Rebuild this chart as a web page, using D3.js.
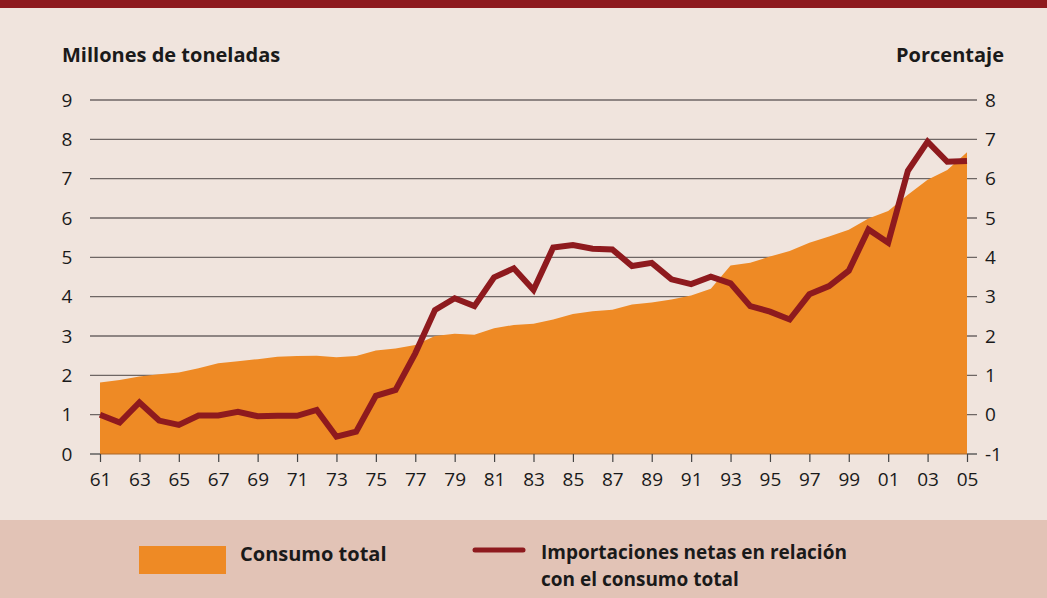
<!DOCTYPE html>
<html>
<head>
<meta charset="utf-8">
<script src="https://cdn.jsdelivr.net/npm/d3@7"></script>
<style>
  body { margin: 0; padding: 0; background: #f0e4dd; }
  svg text { font-family: "Open Sans", "Noto Sans", sans-serif; fill: #1a1a1a; }
</style>
</head>
<body>
<div id="chart"></div>
<script>
// Years 1961-2005
const years = d3.range(1961, 2006);
const yearTicks = d3.range(1961, 2006, 2);

// Consumo total (millones de toneladas)
const consumo = [
  1.82, 1.88, 1.97, 2.03, 2.07, 2.18, 2.31, 2.36, 2.41, 2.47,
  2.49, 2.50, 2.46, 2.49, 2.63, 2.68, 2.77, 3.00, 3.06, 3.03,
  3.20, 3.28, 3.31, 3.42, 3.56, 3.63, 3.67, 3.80, 3.85, 3.93,
  4.03, 4.20, 4.79, 4.86, 5.02, 5.16, 5.37, 5.53, 5.70, 5.99,
  6.18, 6.59, 6.97, 7.22, 7.67
];

// Importaciones netas en relación con el consumo total (porcentaje)
const importaciones = [
  0.00, -0.20, 0.31, -0.15, -0.26, -0.02, -0.02, 0.07, -0.04, -0.03,
  -0.03, 0.12, -0.56, -0.43, 0.48, 0.63, 1.56, 2.66, 2.96, 2.76,
  3.49, 3.72, 3.17, 4.25, 4.31, 4.22, 4.20, 3.78, 3.86, 3.44,
  3.32, 3.51, 3.34, 2.76, 2.62, 2.42, 3.06, 3.27, 3.66, 4.71,
  4.37, 6.20, 6.94, 6.43, 6.45
];

const leftTicks = d3.range(0, 10);
const rightTicks = d3.range(-1, 9);

const width = 1047, height = 598;
const x0 = 100, x1 = 967;
const yBottom = 454, yTop = 100;

const svg = d3.select('#chart')
  .append('svg')
  .attr('width', width)
  .attr('height', height);

// Background pieces
svg.append('rect').attr('x', 0).attr('y', 0).attr('width', width).attr('height', height).attr('fill', '#f0e4dd');
svg.append('rect').attr('x', 0).attr('y', 0).attr('width', width).attr('height', 8).attr('fill', '#8e1a1e');
svg.append('rect').attr('x', 0).attr('y', 520).attr('width', width).attr('height', height - 520).attr('fill', '#e2c3b6');

// Scales
const xScale = d3.scaleLinear().domain([1961, 2005]).range([x0, x1]);
const yLeft = d3.scaleLinear().domain([0, 9]).range([yBottom, yTop]);
const yRight = d3.scaleLinear().domain([-1, 8]).range([yBottom, yTop]);

// Gridlines
svg.append('g')
  .selectAll('line')
  .data(leftTicks.filter(d => d > 0))
  .enter().append('line')
  .attr('x1', 90).attr('x2', 977)
  .attr('y1', d => yLeft(d)).attr('y2', d => yLeft(d))
  .attr('stroke', '#6e6664')
  .attr('stroke-width', 1.4);

// Small ticks at zero line on both sides
svg.append('line').attr('x1', 90).attr('x2', x0).attr('y1', yLeft(0)).attr('y2', yLeft(0))
  .attr('stroke', '#555').attr('stroke-width', 1.4);
svg.append('line').attr('x1', x1).attr('x2', 977).attr('y1', yLeft(0)).attr('y2', yLeft(0))
  .attr('stroke', '#555').attr('stroke-width', 1.4);

// Area
const area = d3.area()
  .x((d, i) => xScale(years[i]))
  .y0(yLeft(0))
  .y1(d => yLeft(d));

svg.append('path')
  .datum(consumo)
  .attr('fill', '#ee8a25')
  .attr('d', area);

// Zero axis line
svg.append('line').attr('x1', x0).attr('x2', x1).attr('y1', yLeft(0)).attr('y2', yLeft(0))
  .attr('stroke', '#a8662a').attr('stroke-width', 1.2);

// X axis ticks and labels
const xAxis = svg.append('g')
  .attr('transform', `translate(0,${yLeft(0)})`)
  .call(d3.axisBottom(xScale)
    .tickValues(yearTicks)
    .tickSize(8)
    .tickPadding(11)
    .tickFormat(d => String(d).slice(2)));
xAxis.select('.domain').remove();
xAxis.selectAll('.tick line').attr('stroke', '#444').attr('stroke-width', 1.2);
xAxis.selectAll('.tick text')
  .style('font-size', '19px')
  .attr('fill', '#1a1a1a')
  .style('font-family', '"Open Sans", "Noto Sans", sans-serif');

// Left axis labels
svg.append('g')
  .selectAll('text')
  .data(leftTicks)
  .enter().append('text')
  .attr('x', 67)
  .attr('y', d => yLeft(d))
  .attr('dy', '0.35em')
  .attr('text-anchor', 'middle')
  .style('font-size', '19px')
  .text(d => d);

// Right axis labels
svg.append('g')
  .selectAll('text')
  .data(rightTicks)
  .enter().append('text')
  .attr('x', 985)
  .attr('y', d => yRight(d))
  .attr('dy', '0.35em')
  .attr('text-anchor', 'start')
  .style('font-size', '19px')
  .text(d => d);

// Line
const line = d3.line()
  .x((d, i) => xScale(years[i]))
  .y(d => yRight(d));

svg.append('path')
  .datum(importaciones)
  .attr('fill', 'none')
  .attr('stroke', '#8e1a1e')
  .attr('stroke-width', 6)
  .attr('stroke-linejoin', 'miter')
  .attr('d', line);

// Axis titles
svg.append('text')
  .attr('x', 62).attr('y', 62)
  .style('font-size', '20px')
  .style('font-weight', 'bold')
  .text('Millones de toneladas');

svg.append('text')
  .attr('x', 1004).attr('y', 62)
  .attr('text-anchor', 'end')
  .style('font-size', '20px')
  .style('font-weight', 'bold')
  .text('Porcentaje');

// Legend
svg.append('rect')
  .attr('x', 139).attr('y', 546).attr('width', 87).attr('height', 28)
  .attr('fill', '#ee8a25');
svg.append('text')
  .attr('x', 240).attr('y', 561)
  .style('font-size', '20px').style('font-weight', 'bold')
  .text('Consumo total');

svg.append('line')
  .attr('x1', 475).attr('x2', 523).attr('y1', 550).attr('y2', 550)
  .attr('stroke', '#8e1a1e').attr('stroke-width', 5)
  .attr('stroke-linecap', 'round');
svg.append('text')
  .attr('x', 541).attr('y', 559)
  .style('font-size', '19px').style('font-weight', 'bold')
  .text('Importaciones netas en relación');
svg.append('text')
  .attr('x', 541).attr('y', 586)
  .style('font-size', '19px').style('font-weight', 'bold')
  .text('con el consumo total');
</script>
</body>
</html>
